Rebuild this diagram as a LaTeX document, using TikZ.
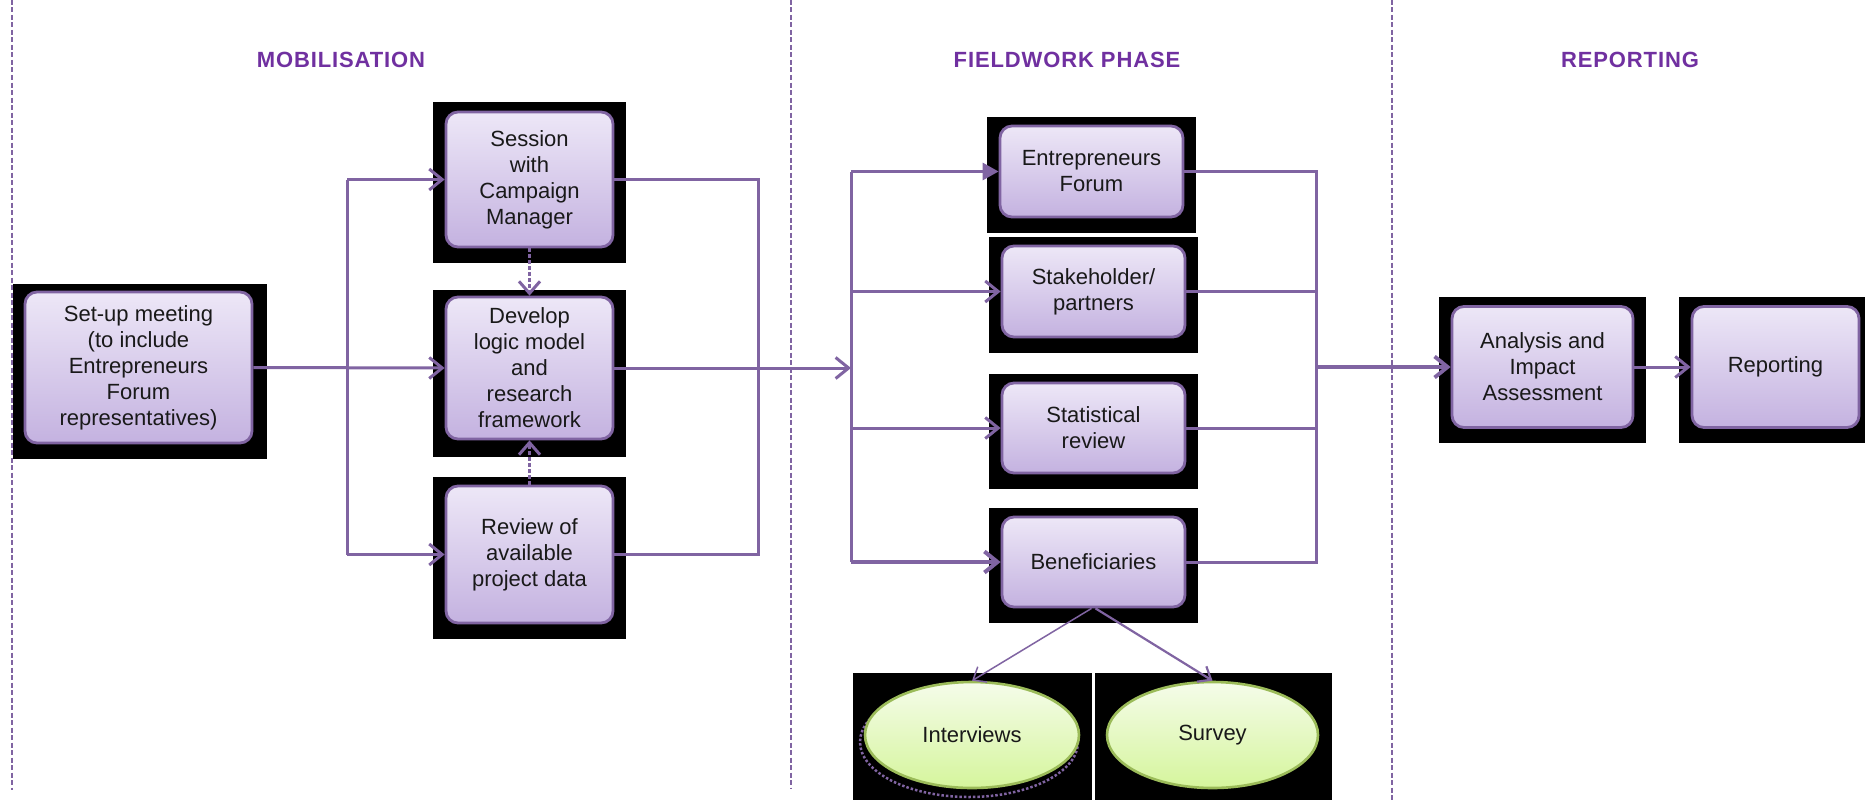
\documentclass[tikz,border=0pt]{standalone}
\usepackage{fontspec}
\setmainfont{Liberation Sans}
\newfontfamily\phasefont{Liberation Sans}[LetterSpace=4]
\usetikzlibrary{arrows.meta,shapes.geometric}
\definecolor{pline}{HTML}{8064A2}
\definecolor{phead}{HTML}{7030A0}
\definecolor{ptop}{HTML}{EDE7F7}
\definecolor{pbot}{HTML}{C4B2E0}
\definecolor{gtop}{HTML}{F5FCEA}
\definecolor{gbot}{HTML}{D5F59C}
\definecolor{gline}{HTML}{9BBB59}
\tikzset{
 pbox/.style={draw=pline, line width=2.8pt, rounded corners=12pt, top color=ptop, bottom color=pbot,
   align=center, font=\fontsize{22}{26}\selectfont, text=black!90, inner sep=0pt},
 conn/.style={draw=pline, line width=3pt},
 arr/.style={conn, -{Straight Barb[length=13pt,width=21pt]}},
 farr/.style={conn, -{Triangle[length=16pt,width=17pt]}},
 thinarr/.style={draw=pline, line width=1.5pt, -{Straight Barb[length=11pt,width=18pt]}},
 medarr/.style={draw=pline, line width=2.2pt, -{Straight Barb[length=11pt,width=18pt]}},
 dasharr/.style={draw=pline, line width=3pt, dash pattern=on 4pt off 2pt, -{Straight Barb[length=12pt,width=21pt]}},
 blk/.style={fill=black},
 phase/.style={font=\phasefont\bfseries\fontsize{22}{26}\selectfont, text=phead},
 sep/.style={draw=pline, line width=2.6pt, dash pattern=on 5pt off 2.5pt},
 ell/.style={ellipse, draw=gline, line width=2.6pt, top color=gtop, bottom color=gbot,
   font=\fontsize{22}{26}\selectfont, text=black!90, inner sep=0pt, minimum width=214pt, minimum height=106pt}
}
\begin{document}
\begin{tikzpicture}[x=1pt,y=-1pt]
\useasboundingbox (0,0) rectangle (1865,800);
\fill[white] (0,0) rectangle (1865,800);

% phase separators
\draw[sep] (12,0) -- (12,790);
\draw[sep] (791,0) -- (791,788);
\draw[sep] (1392,0) -- (1392,800);

% headers
\node[phase] (hmob) at (341,60) {MOBILISATION};
\node[phase] (hfw) at (1067,60) {FIELDWORK PHASE};
\node[phase] (hrep) at (1630,60) {REPORTING};

% black backdrops
\fill[blk] (13,284) rectangle (267,459);
\fill[blk] (433,102) rectangle (626,263);
\fill[blk] (433,290) rectangle (626,457);
\fill[blk] (433,477) rectangle (626,639);
\fill[blk] (987,117) rectangle (1196,233);
\fill[blk] (989,237) rectangle (1198,353);
\fill[blk] (989,374) rectangle (1198,489);
\fill[blk] (989,508) rectangle (1198,623);
\fill[blk] (1439,297) rectangle (1646,443);
\fill[blk] (1679,297) rectangle (1865,443);
\fill[blk] (853,673) rectangle (1092,800);
\fill[blk] (1095,673) rectangle (1332,800);

% boxes
\node[pbox, minimum width=227pt, minimum height=151pt] (setup) at (138.5,367.5)
  {Set-up meeting\\(to include\\Entrepreneurs\\Forum\\representatives)};
\node[pbox, minimum width=167pt, minimum height=135pt] (session) at (529.5,179.5)
  {Session\\with\\Campaign\\Manager};
\node[pbox, minimum width=167pt, minimum height=142pt] (develop) at (529.5,368)
  {Develop\\logic model\\and\\research\\framework};
\node[pbox, minimum width=167pt, minimum height=137pt] (review) at (529.5,554.5)
  {Review of\\available\\project data};
\node[pbox, minimum width=183pt, minimum height=91pt] (ef) at (1091.5,171.5)
  {Entrepreneurs\\Forum};
\node[pbox, minimum width=183pt, minimum height=91pt] (sh) at (1093.5,291.5)
  {Stakeholder/\\partners};
\node[pbox, minimum width=183pt, minimum height=90pt] (sr) at (1093.5,428)
  {Statistical\\review};
\node[pbox, minimum width=183pt, minimum height=90pt] (ben) at (1093.5,562)
  {Beneficiaries};
\node[pbox, minimum width=181pt, minimum height=121pt] (ana) at (1542.5,367)
  {Analysis and\\Impact\\Assessment};
\node[pbox, minimum width=167pt, minimum height=121pt] (rep) at (1775.5,367)
  {Reporting};

% ellipses
\draw[pline, dotted, line width=2.5pt] (969,742) ellipse (109 and 55);
\node[ell] (int) at (972,735) {Interviews};
\node[ell, minimum width=211pt] (sur) at (1212.5,735) {Survey};

% mobilisation connectors
\coordinate (lt1) at (347,179.5);
\coordinate (lt2) at (347,554.5);
\draw[conn] (lt1) -- (lt2);
\draw[arr] (setup.east) -- (develop.west);
\draw[arr] (lt1) -- (session.west);
\draw[arr] (lt2) -- (review.west);
\draw[dasharr] (session.south) -- (develop.north);
\draw[dasharr] (review.north) -- (develop.south);

\coordinate (rb1) at (758,179.5);
\coordinate (rb2) at (758,554.5);
\coordinate (rbm) at (758,368);
\draw[conn] (session.east) -- (rb1) -- (rb2) -- (review.east);
\draw[conn] (develop.east) -- (rbm);

% fieldwork trunk
\coordinate (ft1) at (851,171.5);
\coordinate (ft2) at (851,562);
\coordinate (ftm) at (851,368);
\draw[conn] (ft1) -- (ft2);
\draw[arr] (rbm) -- (ftm);
\draw[farr] (ft1) -- (ef.west);
\draw[arr] (ftm |- sh.west) -- (sh.west);
\draw[arr] (ftm |- sr.west) -- (sr.west);
\draw[arr, line width=4pt] (ft2) -- (ben.west);

% fieldwork right bus
\coordinate (fb1) at (1316,171.5);
\coordinate (fb2) at (1316,562);
\coordinate (fbm) at (1316,367);
\draw[conn] (ef.east) -- (fb1) -- (fb2) -- (ben.east);
\draw[conn] (sh.east) -- (fb1 |- sh.east);
\draw[conn] (sr.east) -- (fb1 |- sr.east);
\draw[arr, line width=3.8pt] (fbm) -- (ana.west);
\draw[arr] (ana.east) -- (rep.west);

% beneficiaries split
\draw[thinarr] ([xshift=-2pt]ben.south) -- (int.north);
\draw[medarr] ([xshift=2pt]ben.south) -- (sur.north);
\end{tikzpicture}
\end{document}
